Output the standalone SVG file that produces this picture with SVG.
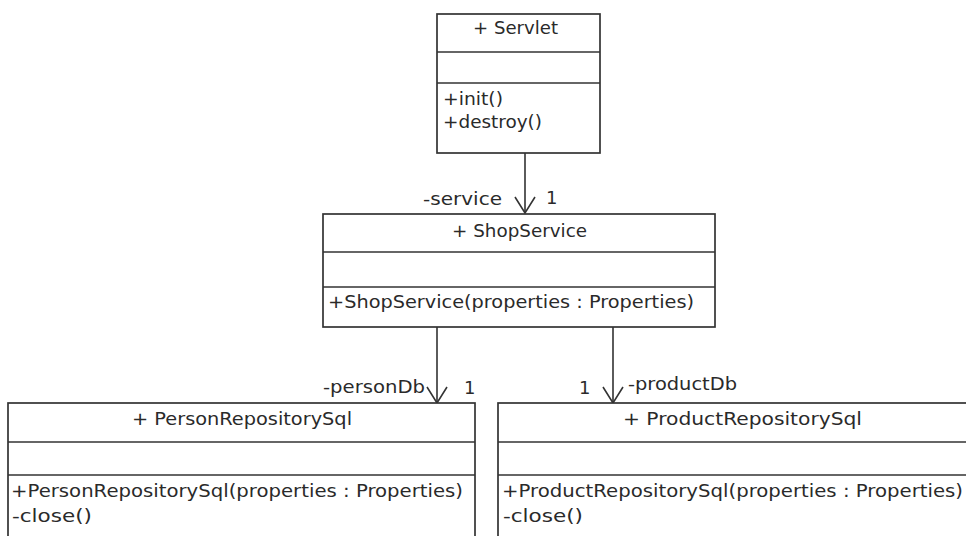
<svg xmlns="http://www.w3.org/2000/svg" width="966" height="536" viewBox="0 0 966 536">
  <style>
    .box { fill: #ffffff; stroke: #333333; stroke-width: 1.7; }
    .sep { stroke: #333333; stroke-width: 1.7; }
    .t { font-family: "DejaVu Sans", "Open Sans", sans-serif; font-size: 18px; fill: #2a2a2a; }
    .c { text-anchor: middle; }
    .edge { stroke: #333333; stroke-width: 1.6; fill: none; }
    .head { stroke: #333333; stroke-width: 1.6; fill: none; }
  </style>
  <rect width="966" height="536" fill="#ffffff"/>

  <!-- associations: plain lines with open arrowheads at the target end -->
  <g id="connectors">
    <line class="edge" x1="525" y1="153" x2="525" y2="213"/>
    <path class="head" d="M515,197 L525,213 L535,197"/>
    <line class="edge" x1="437" y1="327" x2="437" y2="403"/>
    <path class="head" d="M427,387 L437,403 L447,387"/>
    <line class="edge" x1="613" y1="327" x2="613" y2="403"/>
    <path class="head" d="M603,387 L613,403 L623,387"/>
    <text class="t" x="423" y="205" textLength="79" lengthAdjust="spacingAndGlyphs">-service</text>
    <text class="t" x="546" y="204">1</text>
    <text class="t" x="323" y="393" textLength="102" lengthAdjust="spacingAndGlyphs">-personDb</text>
    <text class="t" x="464" y="394">1</text>
    <text class="t" x="579" y="394">1</text>
    <text class="t" x="628" y="390" textLength="109" lengthAdjust="spacingAndGlyphs">-productDb</text>
  </g>

  <g id="servlet">
    <rect class="box" x="437" y="14" width="163" height="139"/>
    <line class="sep" x1="437" y1="52" x2="600" y2="52"/>
    <line class="sep" x1="437" y1="83" x2="600" y2="83"/>
    <text class="t" x="473" y="34" textLength="85" lengthAdjust="spacingAndGlyphs">+ Servlet</text>
    <text class="t" x="443" y="105" textLength="60" lengthAdjust="spacingAndGlyphs">+init()</text>
    <text class="t" x="443" y="128" textLength="99" lengthAdjust="spacingAndGlyphs">+destroy()</text>
  </g>

  <g id="shopservice">
    <rect class="box" x="323" y="214" width="392" height="113"/>
    <line class="sep" x1="323" y1="252" x2="715" y2="252"/>
    <line class="sep" x1="323" y1="287" x2="715" y2="287"/>
    <text class="t" x="452" y="237" textLength="135" lengthAdjust="spacingAndGlyphs">+ ShopService</text>
    <text class="t" x="328" y="308" textLength="366" lengthAdjust="spacingAndGlyphs">+ShopService(properties : Properties)</text>
  </g>

  <g id="personrepositorysql">
    <rect class="box" x="8" y="403" width="467" height="150"/>
    <line class="sep" x1="8" y1="442" x2="475" y2="442"/>
    <line class="sep" x1="8" y1="475" x2="475" y2="475"/>
    <text class="t" x="132" y="425" textLength="220" lengthAdjust="spacingAndGlyphs">+ PersonRepositorySql</text>
    <text class="t" x="11" y="497" textLength="452" lengthAdjust="spacingAndGlyphs">+PersonRepositorySql(properties : Properties)</text>
    <text class="t" x="12" y="522" textLength="80" lengthAdjust="spacingAndGlyphs">-close()</text>
  </g>

  <g id="productrepositorysql">
    <rect class="box" x="498" y="403" width="480" height="150"/>
    <line class="sep" x1="498" y1="442" x2="966" y2="442"/>
    <line class="sep" x1="498" y1="475" x2="966" y2="475"/>
    <text class="t" x="623" y="425" textLength="239" lengthAdjust="spacingAndGlyphs">+ ProductRepositorySql</text>
    <text class="t" x="502" y="497" textLength="461" lengthAdjust="spacingAndGlyphs">+ProductRepositorySql(properties : Properties)</text>
    <text class="t" x="503" y="522" textLength="80" lengthAdjust="spacingAndGlyphs">-close()</text>
  </g>
</svg>
